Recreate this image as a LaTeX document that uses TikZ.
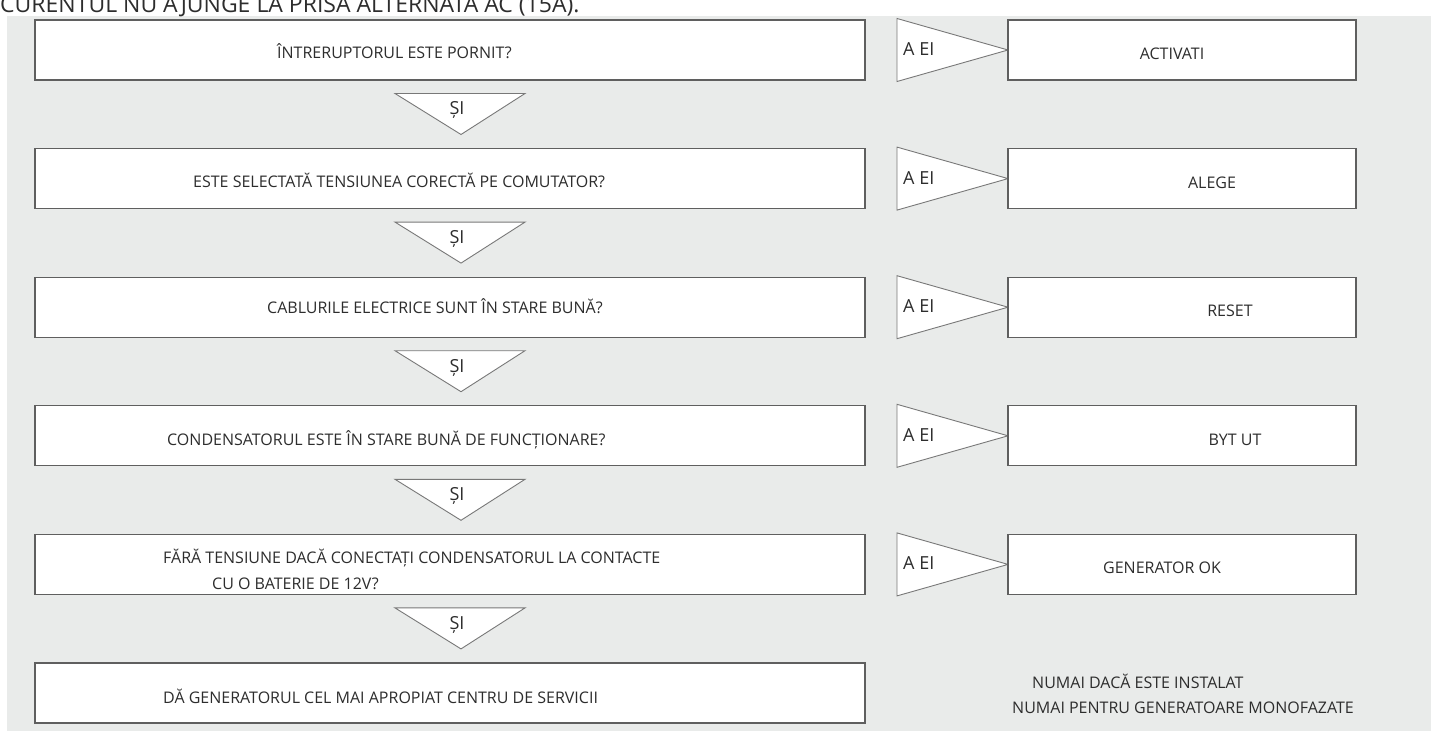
\documentclass[tikz,border=0pt]{standalone}
\usepackage{fontspec}
\setmainfont{Open Sans}

\definecolor{bggray}{RGB}{233,235,234}
\definecolor{linegray}{RGB}{95,95,95}
\definecolor{trigray}{RGB}{120,120,120}
\definecolor{textgray}{RGB}{45,45,45}

\begin{document}
\begin{tikzpicture}[x=1pt, y=-1pt,
        qbox/.style={draw=linegray, line width=1.1pt, fill=white, minimum width=830pt, minimum height=60pt, inner sep=0pt},
        abox/.style={draw=linegray, line width=1.1pt, fill=white, minimum width=348pt, minimum height=60pt, inner sep=0pt},
        tri/.style={draw=trigray, line width=0.9pt, fill=white},
        txt/.style={text=textgray, inner sep=0pt, font=\fontsize{16}{19}\selectfont},
        bigtxt/.style={text=textgray, inner sep=0pt, font=\fontsize{18}{21}\selectfont}]

        \useasboundingbox (0, 0) rectangle (1431, 733);
        \fill[bggray] (7, 16) rectangle (1431, 731);

        \node[bigtxt, anchor=base west, font=\fontsize{23}{26}\selectfont] (title) at (0, 13) {CURENTUL NU AJUNGE LA PRISA ALTERNATĂ AC (15A).};

        % question boxes
        \node[qbox] (q1) at (450, 50) {};
        \node[qbox] (q2) at (450, 178.6) {};
        \node[qbox] (q3) at (450, 307.2) {};
        \node[qbox] (q4) at (450, 435.8) {};
        \node[qbox] (q5) at (450, 564.4) {};
        \node[qbox] (q6) at (450, 693) {};

        \node[txt, anchor=base west] (t1) at (277, 59) {ÎNTRERUPTORUL ESTE PORNIT?};
        \node[txt, anchor=base west] (t2) at (193, 187.5) {ESTE SELECTATĂ TENSIUNEA CORECTĂ PE COMUTATOR?};
        \node[txt, anchor=base west] (t3) at (267, 313.5) {CABLURILE ELECTRICE SUNT ÎN STARE BUNĂ?};
        \node[txt, anchor=base west] (t4) at (167, 445.5) {CONDENSATORUL ESTE ÎN STARE BUNĂ DE FUNCȚIONARE?};
        \node[txt, anchor=base west] (t5a) at (163, 563) {FĂRĂ TENSIUNE DACĂ CONECTAȚI CONDENSATORUL LA CONTACTE};
        \node[txt, anchor=base west] (t5b) at (212, 589) {CU O BATERIE DE 12V?};
        \node[txt, anchor=base west] (t6) at (163, 703) {DĂ GENERATORUL CEL MAI APROPIAT CENTRU DE SERVICII};

        % "si" triangles
        \draw[tri] (395, 93.5) -- (525, 93.5) -- (461, 134.5) -- cycle;
        \draw[tri] (395, 222.1) -- (525, 222.1) -- (461, 263.1) -- cycle;
        \draw[tri] (395, 350.7) -- (525, 350.7) -- (461, 391.7) -- cycle;
        \draw[tri] (395, 479.3) -- (525, 479.3) -- (461, 520.3) -- cycle;
        \draw[tri] (395, 607.9) -- (525, 607.9) -- (461, 648.9) -- cycle;

        \node[bigtxt, anchor=base] (s1) at (457, 115) {ȘI};
        \node[bigtxt, anchor=base] (s2) at (457, 243.6) {ȘI};
        \node[bigtxt, anchor=base] (s3) at (457, 372.2) {ȘI};
        \node[bigtxt, anchor=base] (s4) at (457, 500.8) {ȘI};
        \node[bigtxt, anchor=base] (s5) at (457, 629.4) {ȘI};

        % "a ei" triangles
        \draw[tri] (897, 18.5) -- (1008, 50) -- (897, 81.5) -- cycle;
        \draw[tri] (897, 147.1) -- (1008, 178.6) -- (897, 210.1) -- cycle;
        \draw[tri] (897, 275.7) -- (1008, 307.2) -- (897, 338.7) -- cycle;
        \draw[tri] (897, 404.3) -- (1008, 435.8) -- (897, 467.3) -- cycle;
        \draw[tri] (897, 532.9) -- (1008, 564.4) -- (897, 595.9) -- cycle;

        \node[bigtxt, anchor=base west] (n1) at (903, 55.4) {A EI};
        \node[bigtxt, anchor=base west] (n2) at (903, 184) {A EI};
        \node[bigtxt, anchor=base west] (n3) at (903, 312.6) {A EI};
        \node[bigtxt, anchor=base west] (n4) at (903, 441.2) {A EI};
        \node[bigtxt, anchor=base west] (n5) at (903, 569.8) {A EI};

        % action boxes
        \node[abox] (r1) at (1182, 50) {};
        \node[abox] (r2) at (1182, 178.6) {};
        \node[abox] (r3) at (1182, 307.2) {};
        \node[abox] (r4) at (1182, 435.8) {};
        \node[abox] (r5) at (1182, 564.4) {};

        \node[txt, anchor=base] (a1) at (1172, 60) {ACTIVATI};
        \node[txt, anchor=base] (a2) at (1212, 188) {ALEGE};
        \node[txt, anchor=base] (a3) at (1230, 316.5) {RESET};
        \node[txt, anchor=base] (a4) at (1235, 445) {BYT UT};
        \node[txt, anchor=base] (a5) at (1162, 573.5) {GENERATOR OK};

        \node[txt, anchor=base west] (note1) at (1032, 688) {NUMAI DACĂ ESTE INSTALAT};
        \node[txt, anchor=base west] (note2) at (1012, 713) {NUMAI PENTRU GENERATOARE MONOFAZATE};

    \end{tikzpicture}
\end{document}
